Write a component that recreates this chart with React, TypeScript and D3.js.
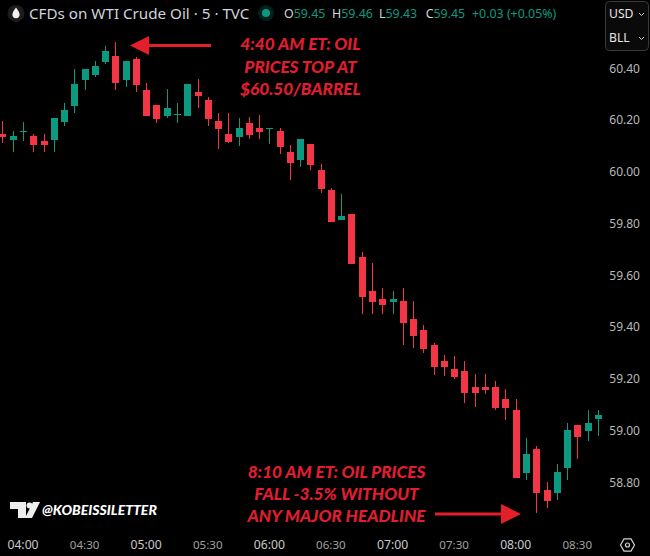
import React from "react";
import * as d3 from "d3";

const W = 650, H = 556;
const UP = "#0b9a80", DOWN = "#f23645", ANNOT = "#e11d30", ARROW = "#e3202a";

const firstCandleMinute = -10; // minutes after 04:00
const barMinutes = 5;
const opens = [60.145,60.122,60.153,60.137,60.118,60.122,60.191,60.253,60.354,60.373,60.423,60.446,60.354,60.435,60.315,60.257,60.214,60.222,60.214,60.307,60.276,60.195,60.145,60.133,60.187,60.168,60.164,60.157,60.075,60.044,60.106,60.006,59.929,59.812,59.836,59.670,59.538,59.507,59.496,59.499,59.430,59.387,59.329,59.268,59.237,59.229,59.167,59.167,59.167,59.121,59.078,58.835,58.927,58.769,58.757,58.854,59.020,58.997,59.043];
const highs = [60.195,60.157,60.191,60.145,60.145,60.207,60.265,60.396,60.396,60.427,60.485,60.500,60.427,60.443,60.342,60.257,60.319,60.265,60.338,60.358,60.288,60.226,60.226,60.207,60.211,60.218,60.168,60.168,60.102,60.126,60.106,60.029,59.936,59.913,59.836,59.689,59.646,59.550,59.538,59.550,59.499,59.407,59.337,59.291,59.287,59.268,59.217,59.217,59.190,59.159,59.121,58.970,58.939,58.800,58.869,59.028,59.020,59.078,59.078];
const lows = [60.110,60.075,60.118,60.075,60.075,60.075,60.176,60.226,60.315,60.365,60.415,60.315,60.327,60.307,60.214,60.187,60.207,60.187,60.214,60.245,60.176,60.087,60.110,60.099,60.126,60.126,60.106,60.068,59.967,60.017,60.006,59.917,59.805,59.812,59.642,59.449,59.449,59.449,59.449,59.329,59.318,59.298,59.213,59.210,59.198,59.105,59.090,59.140,59.078,59.040,58.815,58.808,58.680,58.699,58.730,58.808,58.889,58.958,58.978];
const closes = [60.133,60.137,60.157,60.102,60.102,60.207,60.238,60.338,60.396,60.408,60.466,60.342,60.427,60.334,60.214,60.203,60.245,60.224,60.338,60.292,60.203,60.164,60.114,60.168,60.141,60.153,60.168,60.095,60.033,60.126,60.025,59.932,59.805,59.828,59.642,59.515,59.496,59.484,59.507,59.414,59.364,59.314,59.244,59.244,59.206,59.144,59.144,59.155,59.086,59.086,58.815,58.908,58.757,58.727,58.839,59.001,58.974,59.028,59.059];

const priceTicks = [60.4,60.2,60.0,59.8,59.6,59.4,59.2,59.0,58.8];
const timeTicks = [0,30,60,90,120,150,180,210,240,270];
const timeLabels = ["04:00","04:30","05:00","05:30","06:00","06:30","07:00","07:30","08:00","08:30"];

const legendTitle = "CFDs on WTI Crude Oil · 5 · TVC";
const ohlcLetters = ["O","H","L","C"];
const ohlcValues = ["59.45","59.46","59.43","59.45"];
const legendChange = "+0.03 (+0.05%)";
const note1 = ["4:40 AM ET: OIL","PRICES TOP AT","$60.50/BARREL"];
const note2 = ["8:10 AM ET: OIL PRICES","FALL -3.5% WITHOUT","ANY MAJOR HEADLINE"];

const x = d3.scaleLinear().domain([0, 270]).range([23, 577.3]);
const y = d3.scaleLinear().domain([60.4, 58.8]).range([68, 482]);

const uiFont = "'Noto Sans', 'Open Sans', sans-serif";
const noteFont = "Lato, 'Open Sans', sans-serif";

function Arrow({ x1, x2, yc, headLen, headHalf }: { x1: number; x2: number; yc: number; headLen: number; headHalf: number }) {
  const dir = x2 > x1 ? 1 : -1;
  const base = x2 - dir * headLen;
  const path = d3.path();
  path.moveTo(x2, yc);
  path.lineTo(base, yc - headHalf);
  path.lineTo(base, yc + headHalf);
  path.closePath();
  return (
    <g>
      <line x1={x1} x2={base} y1={yc} y2={yc} stroke={ARROW} strokeWidth={3.2} />
      <path d={path.toString()} fill={ARROW} />
    </g>
  );
}

export default function App() {
  const hexPoints = d3.range(6).map((i) => {
    const a = (Math.PI / 3) * i;
    return [627.5 + 7 * Math.cos(a), 545 + 7 * Math.sin(a)].join(",");
  }).join(" ");

  let legendX = 284;
  const legendStep = [48, 47, 46.7, 0];

  return (
    <svg width={W} height={H} viewBox={`0 0 ${W} ${H}`} style={{ position: "absolute", left: 0, top: 0, display: "block", background: "#000" }}>
      <rect width={W} height={H} fill="#000" />

      {/* candles */}
      <g>
        {opens.map((o, i) => {
          const c = closes[i];
          const color = c >= o ? UP : DOWN;
          const cx = Math.round(x(firstCandleMinute + i * barMinutes));
          const top = Math.round(y(Math.max(o, c)));
          const bot = Math.round(y(Math.min(o, c)));
          return (
            <g key={i} shapeRendering="crispEdges">
              <rect x={cx} width={1} y={y(highs[i])} height={y(lows[i]) - y(highs[i])} fill={color} />
              <rect x={cx - 3} width={7} y={top} height={Math.max(1, bot - top)} fill={color} />
            </g>
          );
        })}
      </g>

      {/* header */}
      <circle cx={16} cy={13.5} r={8.5} fill="#1c1c1c" />
      <path d="M16 7.5 C18 10.5 19.6 12.4 19.6 14.6 A3.6 3.6 0 0 1 12.4 14.6 C12.4 12.4 14 10.5 16 7.5 Z" fill="#f2f2f2" />
      <text x={29} y={18.5} fontFamily={uiFont} fontSize={15.2} fill="#d1d4dc">{legendTitle}</text>
      <circle cx={266} cy={13} r={8} fill="#0b9a80" fillOpacity={0.2} />
      <circle cx={266} cy={13} r={4} fill={UP} />
      {ohlcLetters.map((l, i) => {
        const lx = legendX;
        legendX += legendStep[i];
        return (
          <text key={l} x={lx} y={18} fontFamily={uiFont} fontSize={12.4}>
            <tspan fill="#d1d4dc">{l}</tspan>
            <tspan fill={UP}>{ohlcValues[i]}</tspan>
          </text>
        );
      })}
      <text x={472} y={18} fontFamily={uiFont} fontSize={12.4} fill={UP}>{legendChange}</text>

      {/* unit buttons */}
      <rect x={605.5} y={1.5} width={43} height={49} rx={4} fill="#0a0a0a" stroke="#3a3a3a" />
      <text x={609} y={18} fontFamily={uiFont} fontSize={12.2} fill="#e6e6e6">USD</text>
      <text x={609} y={42} fontFamily={uiFont} fontSize={12.2} fill="#e6e6e6">BLL</text>
      <path d="M639 13 l2.5 2.5 l2.5 -2.5" fill="none" stroke="#cfcfcf" />
      <path d="M639 37 l2.5 2.5 l2.5 -2.5" fill="none" stroke="#cfcfcf" />

      {/* price axis */}
      {priceTicks.map((p) => (
        <text key={p} x={640} y={y(p) + 4.5} textAnchor="end" fontFamily={uiFont} fontSize={12} fill="#b8b8b8">{p.toFixed(2)}</text>
      ))}

      {/* time axis */}
      {timeTicks.map((t, i) => {
        const major = t % 60 === 0;
        return (
          <text key={t} x={x(t)} y={549} textAnchor="middle" fontFamily={uiFont} fontSize={major ? 12.2 : 11.6} fill={major ? "#c8c8c8" : "#a0a0a0"}>{timeLabels[i]}</text>
        );
      })}
      <polygon points={hexPoints} fill="none" stroke="#d0d0d0" strokeWidth={1.2} />
      <circle cx={627.5} cy={545} r={2} fill="none" stroke="#d0d0d0" strokeWidth={1.2} />

      {/* annotations */}
      <Arrow x1={211} x2={130} yc={45.5} headLen={19} headHalf={9.5} />
      <Arrow x1={435} x2={521} yc={514} headLen={20} headHalf={10} />
      {note1.map((t, i) => (
        <text key={t} x={300.5} y={50 + i * 22.5} textAnchor="middle" fontFamily={noteFont} fontStyle="italic" fontWeight={900} fontSize={17.2} fill={ANNOT}>{t}</text>
      ))}
      {note2.map((t, i) => (
        <text key={t} x={336.5} y={478 + i * 22} textAnchor="middle" fontFamily={noteFont} fontStyle="italic" fontWeight={900} fontSize={17.2} fill={ANNOT}>{t}</text>
      ))}

      {/* watermark */}
      <path d="M10 502 H26 V518 H18 V509 H10 Z" fill="#eeeeee" />
      <circle cx={29.5} cy={505.5} r={3} fill="#eeeeee" />
      <path d="M33 502 H40 L32 518 H25 Z" fill="#eeeeee" />
      <text x={42} y={515} fontFamily={noteFont} fontStyle="italic" fontWeight={900} fontSize={14} fill="#ffffff">@KOBEISSILETTER</text>
    </svg>
  );
}
